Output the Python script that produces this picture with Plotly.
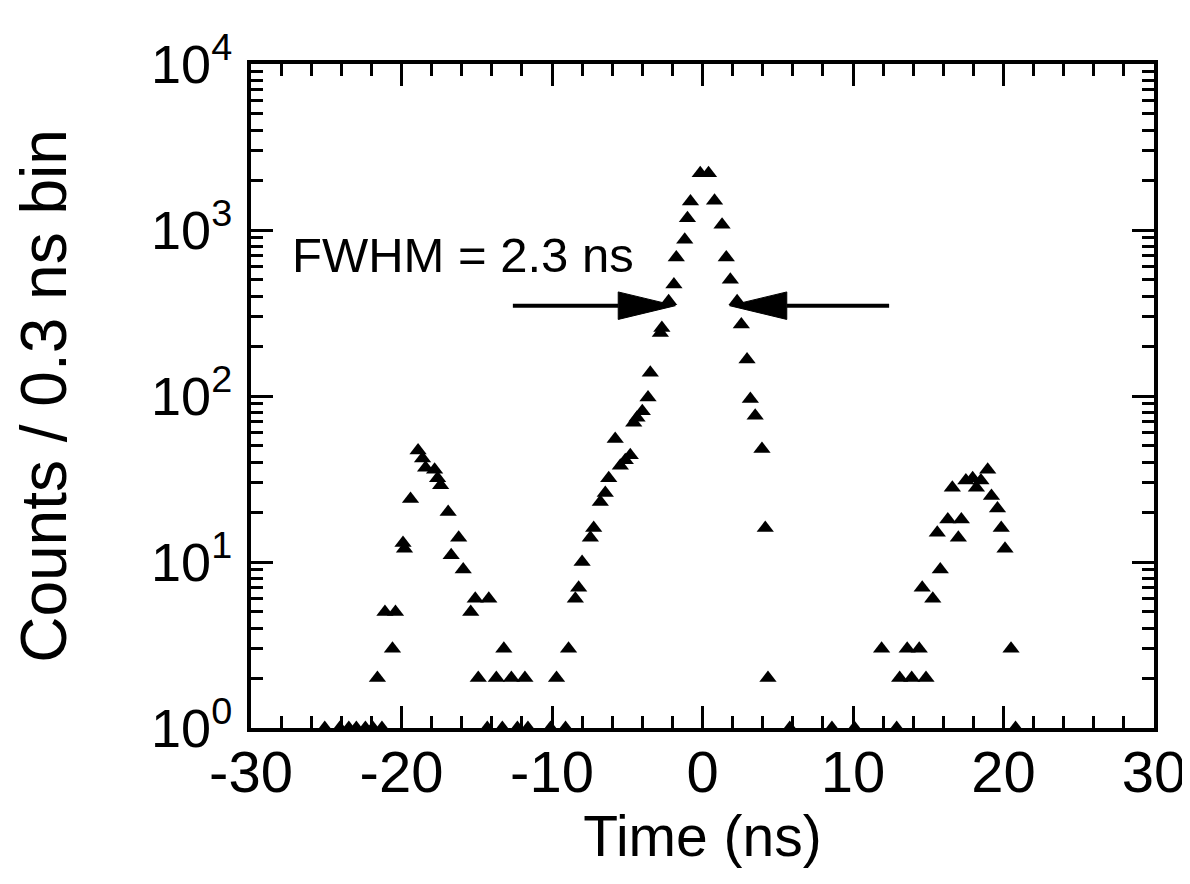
import plotly.graph_objects as go

# time (ns) and counts per 0.3 ns bin
time_ns = [
    -25.1, -24.1, -23.5, -23.0, -22.4, -21.9, -21.6, -21.3, -21.1, -20.6,
    -20.4, -19.9, -19.8, -19.4, -18.9, -18.6, -18.4, -17.8, -17.6, -17.4,
    -16.9, -16.7, -16.2, -15.9, -15.4, -15.1, -14.9, -14.3, -14.2, -13.7,
    -13.3, -13.2, -12.7, -12.3, -11.8, -11.6, -10.1, -9.7, -9.1, -8.9,
    -8.45, -8.23, -8.0, -7.45, -7.23, -6.79, -6.46, -6.23, -5.8, -5.46,
    -5.13, -4.8, -4.57, -4.35, -4.0, -3.62, -3.47, -2.8, -2.7, -2.25,
    -1.9, -1.74, -1.18, -1.0, -0.8, -0.15, 0.4, 0.8, 1.3, 1.58,
    1.85, 2.3, 2.58, 2.96, 3.18, 3.5, 3.95, 4.17, 4.35, 5.8,
    8.6, 10.1, 11.9, 12.9, 13.1, 13.6, 13.9, 14.4, 14.6, 14.85,
    15.3, 15.6, 15.8, 16.3, 16.6, 17.0, 17.2, 17.5, 17.95, 18.2,
    18.5, 18.95, 19.2, 19.6, 19.85, 20.1, 20.5, 20.8,
]
counts = [
    1, 1, 1, 1, 1, 1, 2, 1, 5, 3,
    5, 13, 12, 24, 47, 42, 37, 36, 32, 29,
    20, 11, 14, 9, 5, 6, 2, 1, 6, 2,
    1, 3, 2, 1, 2, 1, 1, 2, 1, 3,
    6, 7, 10, 14, 16, 23, 26, 32, 55, 38,
    41, 44, 69, 74, 81, 98, 138, 240, 257, 372,
    469, 684, 873, 1178, 1483, 2200, 2200, 1500, 1074, 684,
    502, 372, 270, 166, 96, 76, 48, 16, 2, 1,
    1, 1, 3, 1, 2, 3, 2, 3, 7, 2,
    6, 15, 9, 18, 28, 14, 18, 31, 32, 28,
    31, 36, 25, 21, 16, 12, 3, 1,
]

x_ticks = [-30, -20, -10, 0, 10, 20, 30]
x_ticktext = ["-30", "-20", "-10", "0", "10", "20", "30"]
y_ticks = [1, 10, 100, 1000, 10000]
y_ticktext = ["10<sup>0</sup>", "10<sup>1</sup>", "10<sup>2</sup>",
              "10<sup>3</sup>", "10<sup>4</sup>"]
y_minor = [m * d for d in [1, 10, 100, 1000] for m in range(2, 10)]

fwhm_label = "FWHM = 2.3 ns"
arrow_level = 350          # counts level of the FWHM arrows
left_arrow = (-12.6, -1.8)  # tail, tip (ns)
right_arrow = (12.4, 1.8)
head_len = 3.8             # ns
head_half = 1.21           # multiplicative half-height on log axis

FONT = "Liberation Sans, Arial, Helvetica, sans-serif"

fig = go.Figure()
fig.add_trace(go.Scatter(
    x=time_ns, y=counts, mode="markers",
    marker=dict(symbol="triangle-up", size=15, color="black"),
    showlegend=False,
))

shapes = []
for tail, tip in [left_arrow, right_arrow]:
    sign = 1 if tip > tail else -1
    base = tip - sign * head_len
    shapes.append(dict(type="line", xref="x", yref="y",
                       x0=tail, x1=base, y0=arrow_level, y1=arrow_level,
                       line=dict(color="black", width=4)))
    shapes.append(dict(type="path", xref="x", yref="y",
                       path=f"M {base},{arrow_level / head_half} L {tip},{arrow_level} "
                            f"L {base},{arrow_level * head_half} Z",
                       fillcolor="black", line=dict(color="black", width=1)))

# the page body adds an 8px offset, so margins are trimmed on the top/left
fig.update_layout(
    width=1190, height=884,
    margin=dict(l=243, r=44, t=56, b=164),
    paper_bgcolor="white", plot_bgcolor="white",
    font=dict(family=FONT, color="black"),
    shapes=shapes,
    annotations=[dict(text=fwhm_label, x=-27.4, y=2.85, xref="x", yref="y",
                      xanchor="left", yanchor="middle", showarrow=False,
                      font=dict(size=49, family=FONT, color="black"))],
)

fig.update_xaxes(
    range=[-30, 30], tickvals=x_ticks, ticktext=x_ticktext,
    ticks="inside", ticklen=22, tickwidth=3, tickcolor="black",
    minor=dict(dtick=2, ticks="inside", ticklen=12, tickwidth=3, tickcolor="black"),
    showline=True, linewidth=4, linecolor="black", mirror="allticks",
    showgrid=False, zeroline=False,
    tickfont=dict(size=58), ticklabelstandoff=-10,
    title=dict(text="Time (ns)", font=dict(size=57), standoff=0),
)
fig.update_yaxes(
    type="log", range=[0, 4], tickvals=y_ticks, ticktext=y_ticktext,
    ticks="inside", ticklen=22, tickwidth=3, tickcolor="black",
    minor=dict(tickvals=y_minor, ticks="inside", ticklen=12, tickwidth=3,
               tickcolor="black"),
    showline=True, linewidth=4, linecolor="black", mirror="allticks",
    showgrid=False, zeroline=False,
    tickfont=dict(size=54), ticklabelstandoff=4,
    title=dict(text="Counts / 0.3 ns bin", font=dict(size=64), standoff=72),
)

fig.write_html("out.html")
